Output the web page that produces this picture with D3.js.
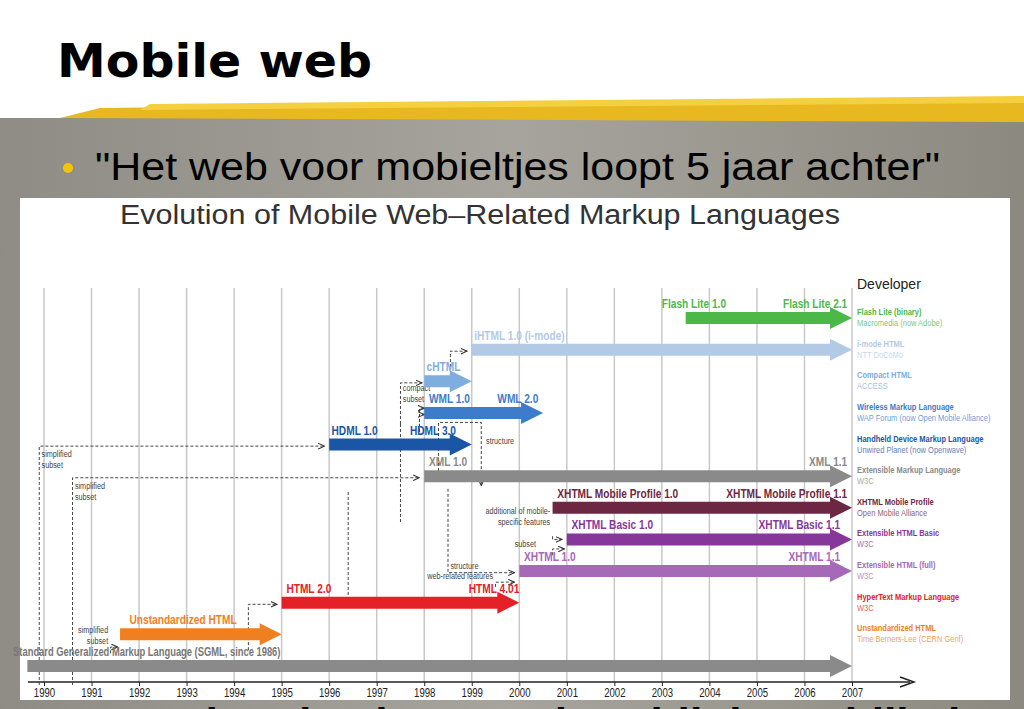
<!DOCTYPE html>
<html><head><meta charset="utf-8">
<script src="https://cdn.jsdelivr.net/npm/d3@7"></script>
<style>body{margin:0;overflow:hidden}svg{display:block}</style>
</head><body>
<script>
const years = d3.range(1990, 2008)

// name, start year, end year, row, colour
const bars = [
  ['Flash Lite', 2003.5, 2007, 0, '#4cb848'],
  ['iHTML', 1999, 2007, 1, '#b3cae6'],
  ['cHTML', 1998, 1999, 2, '#7eade0'],
  ['WML', 1998, 2000.5, 3, '#3d7cca'],
  ['HDML', 1996, 1999, 4, '#1a55a6'],
  ['XML', 1998, 2007, 5, '#8a8a8a'],
  ['XHTML MP', 2000.7, 2007, 6, '#6c2843'],
  ['XHTML Basic', 2001, 2007, 7, '#86389a'],
  ['XHTML', 2000, 2007, 8, '#a669b8'],
  ['HTML', 1995, 2000, 9, '#e42126'],
  ['Unstd HTML', 1991.6, 1995, 10, '#f0801f'],
  ['SGML', 1989.65, 2007, 11, '#8a8a8a']
]

// text, year position, row, anchor
const versions = [
  ['Flash Lite 1.0', 2004.35, 0, 'end'], ['Flash Lite 2.1', 2006.9, 0, 'end'],
  ['iHTML 1.0 (i-mode)', 1999.05, 1, 'start'],
  ['cHTML', 1998.05, 2, 'start'],
  ['WML 1.0', 1998.1, 3, 'start'], ['WML 2.0', 2000.4, 3, 'end'],
  ['HDML 1.0', 1996.05, 4, 'start'], ['HDML 3.0', 1997.7, 4, 'start'],
  ['XML 1.0', 1998.1, 5, 'start'], ['XML 1.1', 2006.9, 5, 'end'],
  ['XHTML Mobile Profile 1.0', 2000.8, 6, 'start'], ['XHTML Mobile Profile 1.1', 2006.9, 6, 'end'],
  ['XHTML Basic 1.0', 2001.1, 7, 'start'], ['XHTML Basic 1.1', 2006.75, 7, 'end'],
  ['XHTML 1.0', 2000.1, 8, 'start'], ['XHTML 1.1', 2006.75, 8, 'end'],
  ['HTML 2.0', 1995.1, 9, 'start'], ['HTML 4.01', 2000, 9, 'end'],
  ['Unstandardized HTML', 1991.8, 10, 'start'],
  ['Standard Generalized Markup Language (SGML, since 1986)', 1989.35, 11, 'start']
]

// legend: name, detail, row, colour, suffix
const legend = [
  ['Flash Lite', 'Macromedia (now Adobe)', 0, '#4cb848', ' (binary)'],
  ['i-mode HTML', 'NTT DoCoMo', 1, '#b3cae6', ''],
  ['Compact HTML', 'ACCESS', 2, '#7eade0', ''],
  ['Wireless Markup Language', 'WAP Forum (now Open Mobile Alliance)', 3, '#3d7cca', ''],
  ['Handheld Device Markup Language', 'Unwired Planet (now Openwave)', 4, '#1a55a6', ''],
  ['Extensible Markup Language', 'W3C', 5, '#8a8a8a', ''],
  ['XHTML Mobile Profile', 'Open Mobile Alliance', 6, '#6c2843', ''],
  ['Extensible HTML Basic', 'W3C', 7, '#86389a', ''],
  ['Extensible HTML (full)', 'W3C', 8, '#a669b8', ''],
  ['HyperText Markup Language', 'W3C', 9, '#e42126', ''],
  ['Unstandardized HTML', 'Time Berners-Lee (CERN Genf)', 10, '#f0801f', '']
]

// dashed connectors: points as [year, row]; arrow at end
const links = [
  [[1998.55, 1.55], [1998.55, 1.05], [1998.9, 1.05]],
  [[1997.5, 3.35], [1997.5, 2.05], [1997.95, 2.05]],
  [[1997.5, 3.35], [1997.5, 6.5]],
  [[1997.9, 3.6], [1997.9, 2.85], [1998.0, 2.85]],
  [[1997.9, 3.6], [1997.9, 3.05], [1998.0, 3.05]],
  [[1998.3, 5.15], [1998.3, 3.3], [1999.2, 3.3], [1999.2, 5.3]],
  [[1989.9, 11.6], [1989.9, 4.05], [1995.9, 4.05]],
  [[1990.6, 11.6], [1990.6, 5.05], [1997.9, 5.05]],
  [[1998.5, 5.4], [1998.5, 8.05], [1999.9, 8.05]],
  [[1999.5, 8.5], [1999.5, 8.35], [1999.9, 8.35]],
  [[2000.7, 6.9], [2000.7, 7.0], [2000.9, 7.0]],
  [[2000.7, 7.5], [2000.7, 7.3], [2000.95, 7.3]],
  [[1994.3, 10.5], [1994.3, 9.05], [1994.9, 9.05]],
  [[1996.4, 5.5], [1996.4, 8.8]],
  [[1991.4, 10.6], [1991.4, 10.4], [1991.55, 10.4]]
]
const notes = [
  ['compact', 1997.55, 2.2], ['subset', 1997.55, 2.55], ['structure', 1999.3, 3.9],
  ['simplified', 1989.95, 4.3], ['subset', 1989.95, 4.65],
  ['simplified', 1990.65, 5.3], ['subset', 1990.65, 5.65],
  ['additional of mobile-', 2000.65, 6.1, 'end'], ['specific features', 2000.65, 6.45, 'end'],
  ['subset', 2000.35, 7.15, 'end'], ['structure', 1998.55, 7.85],
  ['web-related features', 1999.45, 8.15, 'end'],
  ['simplified', 1991.35, 9.85, 'end'], ['subset', 1991.35, 10.2, 'end']
]

const W = 1024, H = 709
const svg = d3.select('body').append('svg').attr('width', W).attr('height', H)

// squeeze text horizontally (no condensed font installed)
const squeeze = (sel, k) => sel.each(function () {
  const t = d3.select(this)
  t.attr('textLength', this.getComputedTextLength() * k).attr('lengthAdjust', 'spacingAndGlyphs')
})

// slide background
const g0 = svg.append('defs').append('linearGradient').attr('id', 'bg').attr('x1', 0).attr('x2', 1)
g0.append('stop').attr('offset', 0).attr('stop-color', '#8e8c84')
g0.append('stop').attr('offset', 0.5).attr('stop-color', '#a6a49c')
g0.append('stop').attr('offset', 1).attr('stop-color', '#8c8a80')
svg.append('rect').attr('width', W).attr('height', H).attr('fill', '#fff')
svg.append('rect').attr('y', 118).attr('width', W).attr('height', H - 118).attr('fill', 'url(#bg)')
svg.append('path').attr('d', 'M100,108 L1024,98 L1024,122 L60,118 Z').attr('fill', '#e8b820')
svg.append('path').attr('d', 'M150,104 L1024,96 L1024,103 L140,110 Z').attr('fill', '#f4d040')
svg.append('text').attr('x', 57).attr('y', 77).text('Mobile web')
  .attr('font-family', 'DejaVu Sans').attr('font-weight', 'bold').attr('font-size', 46)
  .attr('textLength', 315).attr('lengthAdjust', 'spacingAndGlyphs')
svg.append('circle').attr('cx', 68).attr('cy', 168).attr('r', 5).attr('fill', '#f5c400')
svg.append('text').attr('x', 95).attr('y', 180).text('"Het web voor mobieltjes loopt 5 jaar achter"')
  .attr('font-family', 'Liberation Sans').attr('font-size', 38)
  .attr('textLength', 845).attr('lengthAdjust', 'spacingAndGlyphs')
svg.append('text').attr('x', 95).attr('y', 737).text('Standaarden lopen achter bij de mobiliteit')
  .attr('font-family', 'Liberation Sans').attr('font-size', 40).attr('font-weight', 'bold')
  .attr('textLength', 880).attr('lengthAdjust', 'spacingAndGlyphs')

// chart panel
svg.append('rect').attr('x', 20).attr('y', 198).attr('width', 990).attr('height', 502).attr('fill', '#fff')
svg.append('text').attr('x', 120).attr('y', 224).text('Evolution of Mobile Web–Related Markup Languages')
  .attr('font-family', 'Liberation Sans').attr('font-size', 27).attr('fill', '#333')
  .attr('textLength', 720).attr('lengthAdjust', 'spacingAndGlyphs')

const x = d3.scaleLinear().domain([1990, 2007]).range([44, 852])
const y = d3.scaleLinear().domain([0, 11]).range([318, 666])

svg.append('g').selectAll('line').data(years).join('line')
  .attr('x1', d => x(d)).attr('x2', d => x(d)).attr('y1', 288).attr('y2', 682)
  .attr('stroke', '#c8c8c8').attr('stroke-width', 1.5)

const axis = d3.axisBottom(x).tickValues(years).tickFormat(d3.format('d')).tickSize(4).tickPadding(2)
const ag = svg.append('g').attr('transform', 'translate(0,682)').call(axis)
ag.select('.domain').remove()
ag.selectAll('text').attr('font-family', 'Liberation Sans').attr('font-size', 12).attr('fill', '#222')
  .call(squeeze, 0.8)
ag.selectAll('line').attr('stroke', '#222')
svg.append('line').attr('x1', 28).attr('x2', 910).attr('y1', 682).attr('y2', 682).attr('stroke', '#222').attr('stroke-width', 1.5)
svg.append('path').attr('d', 'M900,677 L914,682 L900,687').attr('fill', 'none').attr('stroke', '#222').attr('stroke-width', 1.5)

const arrow = (x0, x1, yc) => {
  const h = 6, hh = 11, hl = 22
  return `M${x0},${yc - h}L${x1 - hl},${yc - h}L${x1 - hl},${yc - hh}L${x1},${yc}L${x1 - hl},${yc + hh}L${x1 - hl},${yc + h}L${x0},${yc + h}Z`
}

// connectors
svg.append('defs').append('marker').attr('id', 'ah').attr('viewBox', '0 0 10 10').attr('refX', 9).attr('refY', 5)
  .attr('markerWidth', 7).attr('markerHeight', 7).attr('orient', 'auto')
  .append('path').attr('d', 'M0,1L9,5L0,9').attr('fill', 'none').attr('stroke', '#333').attr('stroke-width', 1.5)
const line = d3.line().x(d => x(d[0])).y(d => y(d[1]))
svg.append('g').selectAll('path').data(links).join('path')
  .attr('d', d => line(d)).attr('fill', 'none').attr('stroke', '#444').attr('stroke-width', 1)
  .attr('stroke-dasharray', '3,2')
  .attr('marker-end', d => d.length > 2 ? 'url(#ah)' : null)
svg.append('g').selectAll('text').data(notes).join('text')
  .attr('x', d => x(d[1])).attr('y', d => y(d[2]) + 3).text(d => d[0])
  .attr('text-anchor', d => d[3] || 'start')
  .attr('font-family', 'Liberation Sans').attr('font-size', 8.5).attr('fill', '#444')
  .call(squeeze, 0.85)

svg.append('g').selectAll('path').data(bars).join('path')
  .attr('d', d => arrow(x(d[1]), x(d[2]), y(d[3]))).attr('fill', d => d[4])

svg.append('g').selectAll('text').data(versions).join('text')
  .attr('x', d => x(d[1])).attr('y', d => y(d[2]) - 10).text(d => d[0])
  .attr('text-anchor', d => d[3])
  .attr('fill', d => d[2] === 11 ? '#777' : bars[d[2]][4])
  .attr('font-family', 'Liberation Sans').attr('font-weight', 'bold')
  .attr('font-size', d => d[2] === 11 ? 12 : 13)
  .call(squeeze, 0.78)

svg.append('text').attr('x', 857).attr('y', 289).text('Developer')
  .attr('font-family', 'Liberation Sans').attr('font-size', 14).attr('fill', '#222')
const lg = svg.append('g').selectAll('g').data(legend).join('g')
  .attr('transform', d => `translate(857,${y(d[2]) - 3})`)
  .attr('font-family', 'Liberation Sans').attr('font-size', 8.5)
lg.append('text').attr('font-weight', 'bold').attr('fill', d => d[3]).text(d => d[0] + d[4])
  .call(squeeze, 0.88)
lg.append('text').attr('y', 11).attr('fill', d => d[3]).attr('opacity', 0.75).text(d => d[1])
  .call(squeeze, 0.88)
</script>
</body></html>
